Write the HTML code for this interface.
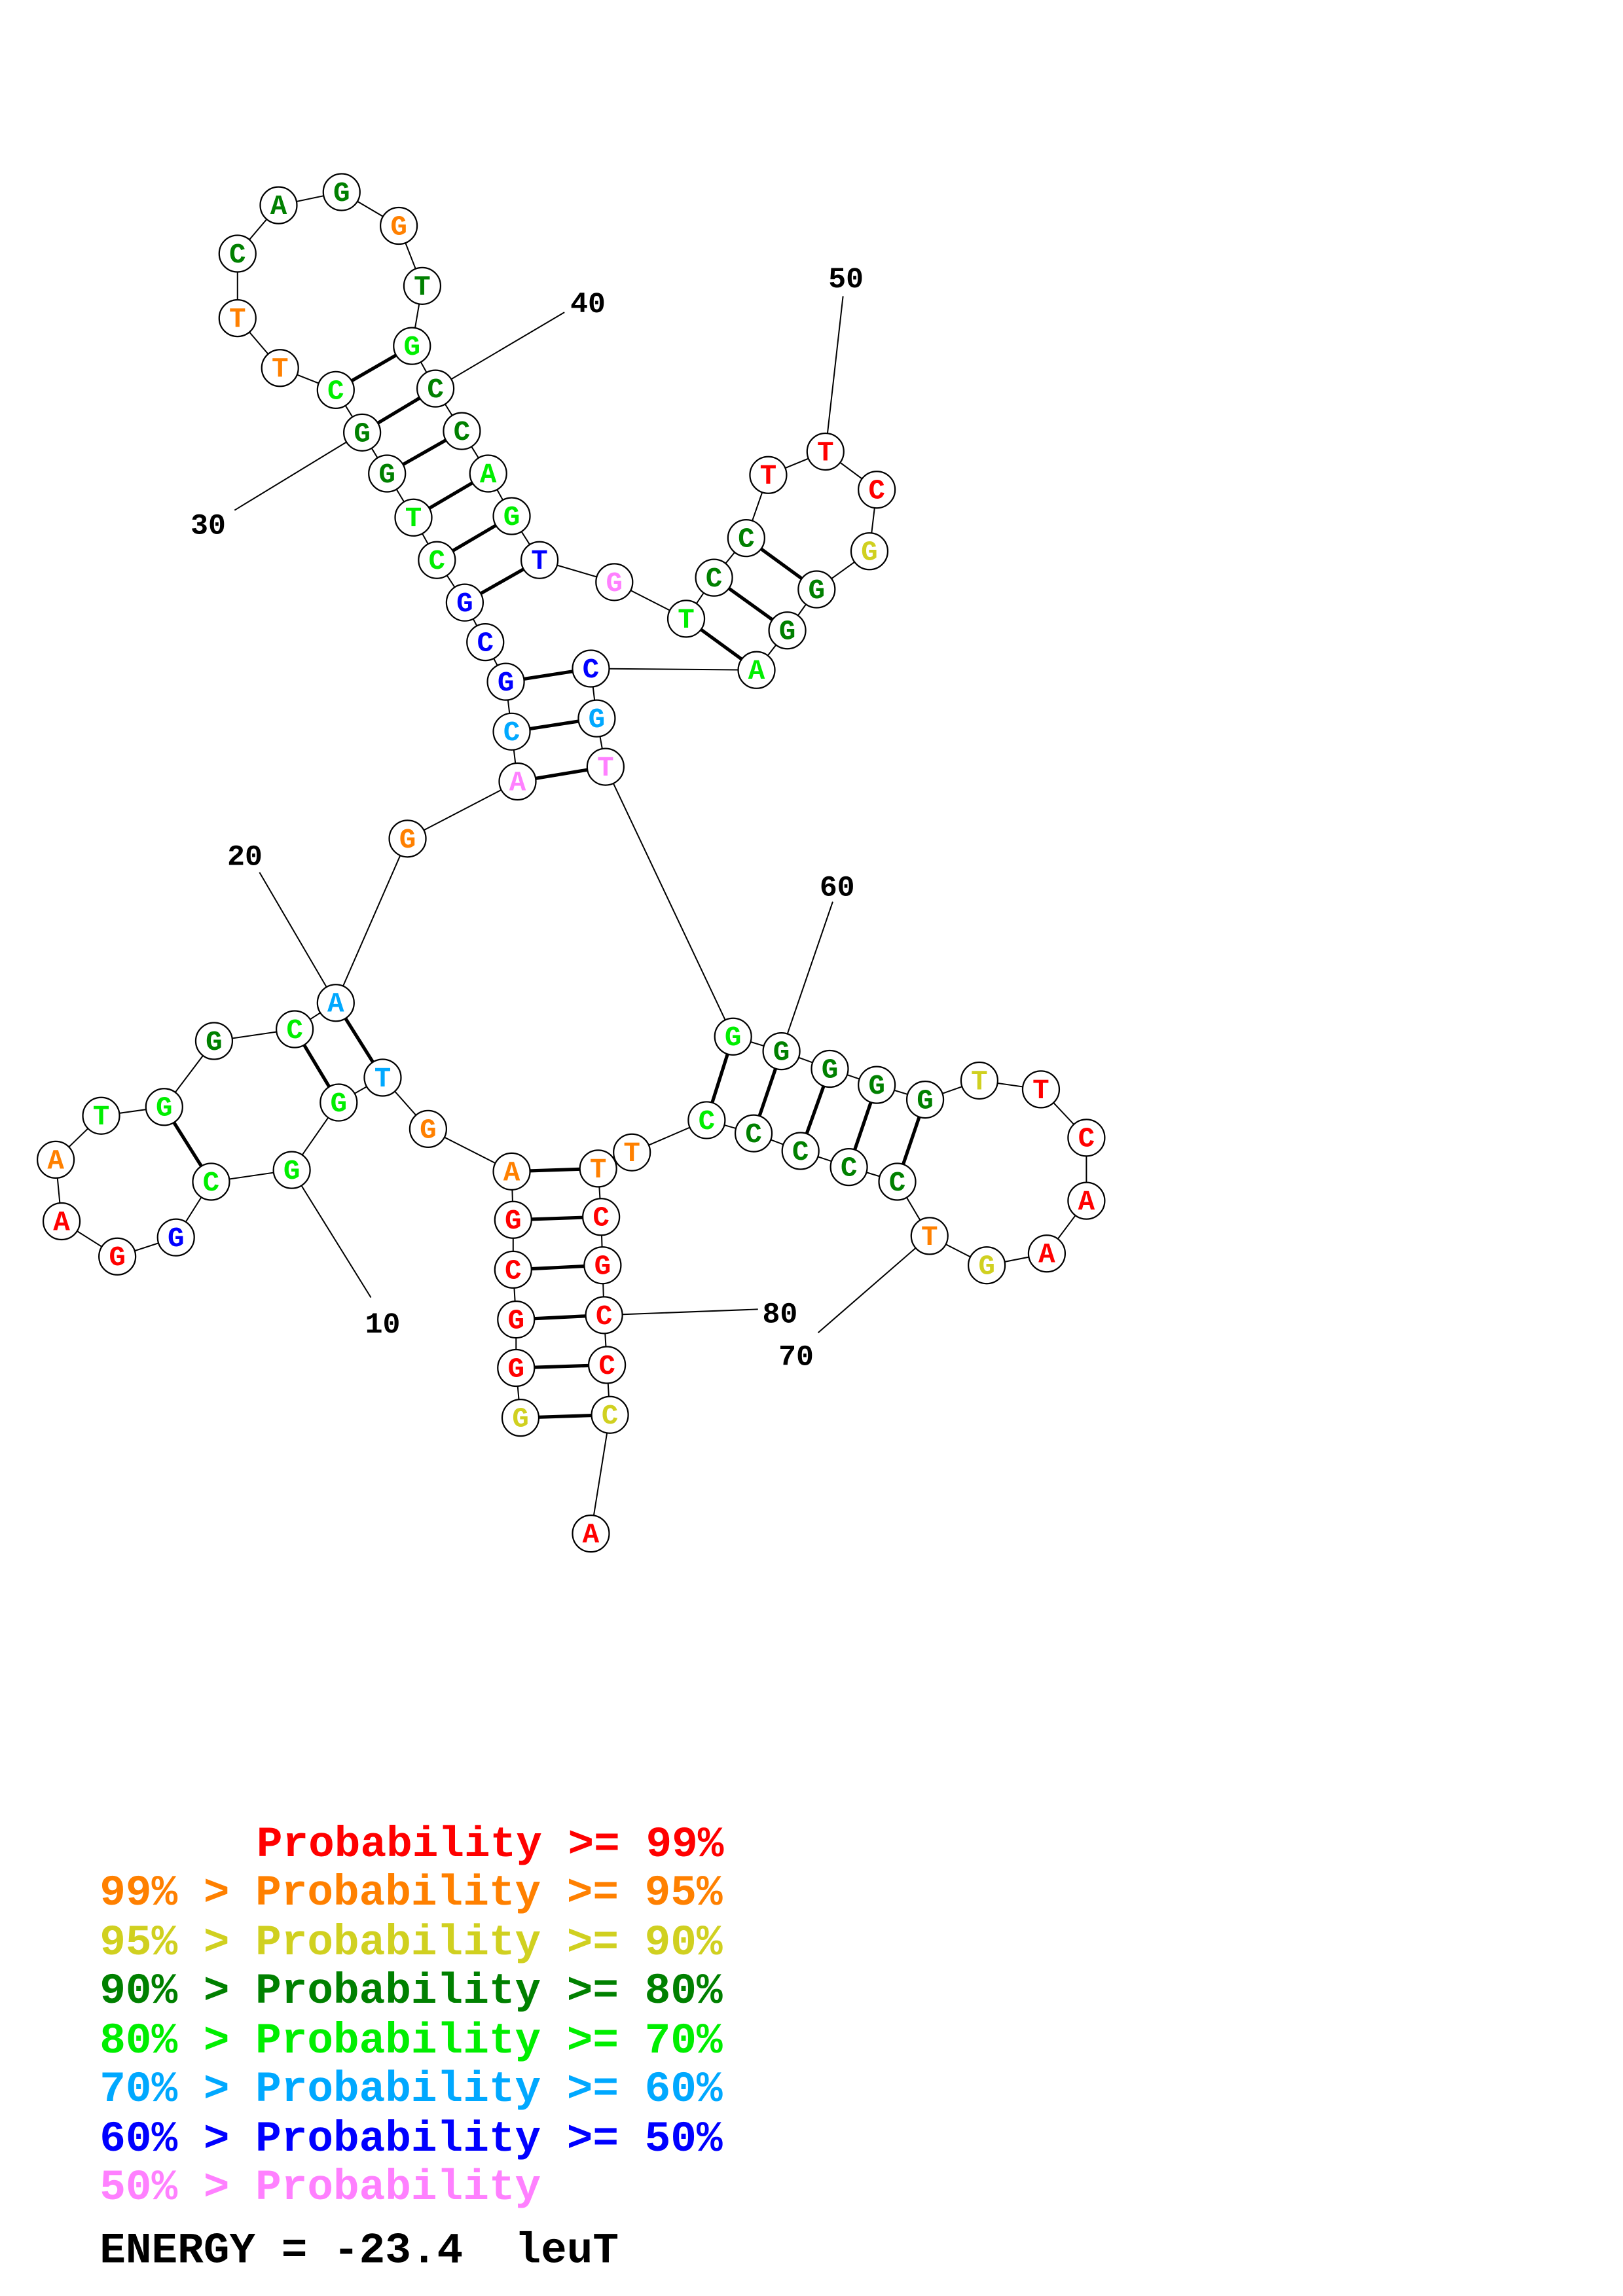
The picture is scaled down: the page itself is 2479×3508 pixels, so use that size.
<!DOCTYPE html>
<html><head><meta charset="utf-8"><style>
html,body{margin:0;padding:0;background:#fff;}
svg{display:block;}
text{font-family:"Liberation Mono",monospace;font-weight:bold;white-space:pre;}
.c circle{fill:#fff;stroke:#000;stroke-width:1;}
.t text{font-size:19px;text-anchor:middle;}
</style></head><body>
<svg width="2479" height="3508" viewBox="0 0 1107 1566" preserveAspectRatio="none" xmlns="http://www.w3.org/2000/svg">
<polyline fill="none" stroke="#000" stroke-width="0.9" points="355,967 352,933 352,900 350,866 350,832 349,799 292,770 261,735 231,752 199,798 144,806 120,844 80,857 42,833 38,791 69,761 112,755 146,710 201,702 229,684 278,572 353,533 349,499 345,465 331,438 317,411 298,382 282,353 264,323 247,295 229,266 191,251 162,217 162,173 190,140 233,131 272,154 288,195 281,236 297,265 315,294 333,323 349,352 368,382 419,397 468,422 487,394 509,367 524,324 563,308 598,334 593,376 557,402 537,430 516,457 403,456 407,490 413,523 500,707 533,717 566,729 598,740 631,750 668,737 710,743 741,776 741,819 714,855 673,863 634,843 612,806 579,796 546,785 514,773 482,764 431,786 408,797 410,830 411,863 412,897 414,931 416,965 403,1046"/>
<g stroke="#000" stroke-width="0.9">
<line x1="199" y1="798" x2="253" y2="885"/>
<line x1="229" y1="684" x2="177" y2="595"/>
<line x1="247" y1="295" x2="160" y2="348"/>
<line x1="297" y1="265" x2="385" y2="213"/>
<line x1="563" y1="308" x2="575" y2="202"/>
<line x1="533" y1="717" x2="568" y2="615"/>
<line x1="634" y1="843" x2="558" y2="909"/>
<line x1="412" y1="897" x2="517" y2="893"/>
</g>
<g stroke="#000" stroke-width="2.3">
<line x1="355" y1="967" x2="416" y2="965"/>
<line x1="352" y1="933" x2="414" y2="931"/>
<line x1="352" y1="900" x2="412" y2="897"/>
<line x1="350" y1="866" x2="411" y2="863"/>
<line x1="350" y1="832" x2="410" y2="830"/>
<line x1="349" y1="799" x2="408" y2="797"/>
<line x1="261" y1="735" x2="229" y2="684"/>
<line x1="231" y1="752" x2="201" y2="702"/>
<line x1="144" y1="806" x2="112" y2="755"/>
<line x1="353" y1="533" x2="413" y2="523"/>
<line x1="349" y1="499" x2="407" y2="490"/>
<line x1="345" y1="465" x2="403" y2="456"/>
<line x1="317" y1="411" x2="368" y2="382"/>
<line x1="298" y1="382" x2="349" y2="352"/>
<line x1="282" y1="353" x2="333" y2="323"/>
<line x1="264" y1="323" x2="315" y2="294"/>
<line x1="247" y1="295" x2="297" y2="265"/>
<line x1="229" y1="266" x2="281" y2="236"/>
<line x1="468" y1="422" x2="516" y2="457"/>
<line x1="487" y1="394" x2="537" y2="430"/>
<line x1="509" y1="367" x2="557" y2="402"/>
<line x1="500" y1="707" x2="482" y2="764"/>
<line x1="533" y1="717" x2="514" y2="773"/>
<line x1="566" y1="729" x2="546" y2="785"/>
<line x1="598" y1="740" x2="579" y2="796"/>
<line x1="631" y1="750" x2="612" y2="806"/>
</g>
<g class="c">
<circle cx="355" cy="967" r="12.5"/><circle cx="352" cy="933" r="12.5"/><circle cx="352" cy="900" r="12.5"/><circle cx="350" cy="866" r="12.5"/><circle cx="350" cy="832" r="12.5"/><circle cx="349" cy="799" r="12.5"/><circle cx="292" cy="770" r="12.5"/><circle cx="261" cy="735" r="12.5"/><circle cx="231" cy="752" r="12.5"/><circle cx="199" cy="798" r="12.5"/>
<circle cx="144" cy="806" r="12.5"/><circle cx="120" cy="844" r="12.5"/><circle cx="80" cy="857" r="12.5"/><circle cx="42" cy="833" r="12.5"/><circle cx="38" cy="791" r="12.5"/><circle cx="69" cy="761" r="12.5"/><circle cx="112" cy="755" r="12.5"/><circle cx="146" cy="710" r="12.5"/><circle cx="201" cy="702" r="12.5"/><circle cx="229" cy="684" r="12.5"/>
<circle cx="278" cy="572" r="12.5"/><circle cx="353" cy="533" r="12.5"/><circle cx="349" cy="499" r="12.5"/><circle cx="345" cy="465" r="12.5"/><circle cx="331" cy="438" r="12.5"/><circle cx="317" cy="411" r="12.5"/><circle cx="298" cy="382" r="12.5"/><circle cx="282" cy="353" r="12.5"/><circle cx="264" cy="323" r="12.5"/><circle cx="247" cy="295" r="12.5"/>
<circle cx="229" cy="266" r="12.5"/><circle cx="191" cy="251" r="12.5"/><circle cx="162" cy="217" r="12.5"/><circle cx="162" cy="173" r="12.5"/><circle cx="190" cy="140" r="12.5"/><circle cx="233" cy="131" r="12.5"/><circle cx="272" cy="154" r="12.5"/><circle cx="288" cy="195" r="12.5"/><circle cx="281" cy="236" r="12.5"/><circle cx="297" cy="265" r="12.5"/>
<circle cx="315" cy="294" r="12.5"/><circle cx="333" cy="323" r="12.5"/><circle cx="349" cy="352" r="12.5"/><circle cx="368" cy="382" r="12.5"/><circle cx="419" cy="397" r="12.5"/><circle cx="468" cy="422" r="12.5"/><circle cx="487" cy="394" r="12.5"/><circle cx="509" cy="367" r="12.5"/><circle cx="524" cy="324" r="12.5"/><circle cx="563" cy="308" r="12.5"/>
<circle cx="598" cy="334" r="12.5"/><circle cx="593" cy="376" r="12.5"/><circle cx="557" cy="402" r="12.5"/><circle cx="537" cy="430" r="12.5"/><circle cx="516" cy="457" r="12.5"/><circle cx="403" cy="456" r="12.5"/><circle cx="407" cy="490" r="12.5"/><circle cx="413" cy="523" r="12.5"/><circle cx="500" cy="707" r="12.5"/><circle cx="533" cy="717" r="12.5"/>
<circle cx="566" cy="729" r="12.5"/><circle cx="598" cy="740" r="12.5"/><circle cx="631" cy="750" r="12.5"/><circle cx="668" cy="737" r="12.5"/><circle cx="710" cy="743" r="12.5"/><circle cx="741" cy="776" r="12.5"/><circle cx="741" cy="819" r="12.5"/><circle cx="714" cy="855" r="12.5"/><circle cx="673" cy="863" r="12.5"/><circle cx="634" cy="843" r="12.5"/>
<circle cx="612" cy="806" r="12.5"/><circle cx="579" cy="796" r="12.5"/><circle cx="546" cy="785" r="12.5"/><circle cx="514" cy="773" r="12.5"/><circle cx="482" cy="764" r="12.5"/><circle cx="431" cy="786" r="12.5"/><circle cx="408" cy="797" r="12.5"/><circle cx="410" cy="830" r="12.5"/><circle cx="411" cy="863" r="12.5"/><circle cx="412" cy="897" r="12.5"/>
<circle cx="414" cy="931" r="12.5"/><circle cx="416" cy="965" r="12.5"/><circle cx="403" cy="1046" r="12.5"/>
</g>
<g class="t">
<text x="355" y="973" fill="#d0d020">G</text><text x="352" y="939" fill="#f00">G</text><text x="352" y="906" fill="#f00">G</text><text x="350" y="872" fill="#f00">C</text><text x="350" y="838" fill="#f00">G</text><text x="349" y="805" fill="#ff8000">A</text><text x="292" y="776" fill="#ff8000">G</text><text x="261" y="741" fill="#00a8ff">T</text><text x="231" y="758" fill="#00ee00">G</text><text x="199" y="804" fill="#00ee00">G</text>
<text x="144" y="812" fill="#00ee00">C</text><text x="120" y="850" fill="#00f">G</text><text x="80" y="863" fill="#f00">G</text><text x="42" y="839" fill="#f00">A</text><text x="38" y="797" fill="#ff8000">A</text><text x="69" y="767" fill="#00ee00">T</text><text x="112" y="761" fill="#00ee00">G</text><text x="146" y="716" fill="#008000">G</text><text x="201" y="708" fill="#00ee00">C</text><text x="229" y="690" fill="#00a8ff">A</text>
<text x="278" y="578" fill="#ff8000">G</text><text x="353" y="539" fill="#ff80ff">A</text><text x="349" y="505" fill="#00a8ff">C</text><text x="345" y="471" fill="#00f">G</text><text x="331" y="444" fill="#00f">C</text><text x="317" y="417" fill="#00f">G</text><text x="298" y="388" fill="#00ee00">C</text><text x="282" y="359" fill="#00ee00">T</text><text x="264" y="329" fill="#008000">G</text><text x="247" y="301" fill="#008000">G</text>
<text x="229" y="272" fill="#00ee00">C</text><text x="191" y="257" fill="#ff8000">T</text><text x="162" y="223" fill="#ff8000">T</text><text x="162" y="179" fill="#008000">C</text><text x="190" y="146" fill="#008000">A</text><text x="233" y="137" fill="#008000">G</text><text x="272" y="160" fill="#ff8000">G</text><text x="288" y="201" fill="#008000">T</text><text x="281" y="242" fill="#00ee00">G</text><text x="297" y="271" fill="#008000">C</text>
<text x="315" y="300" fill="#008000">C</text><text x="333" y="329" fill="#00ee00">A</text><text x="349" y="358" fill="#00ee00">G</text><text x="368" y="388" fill="#00f">T</text><text x="419" y="403" fill="#ff80ff">G</text><text x="468" y="428" fill="#00ee00">T</text><text x="487" y="400" fill="#008000">C</text><text x="509" y="373" fill="#008000">C</text><text x="524" y="330" fill="#f00">T</text><text x="563" y="314" fill="#f00">T</text>
<text x="598" y="340" fill="#f00">C</text><text x="593" y="382" fill="#d0d020">G</text><text x="557" y="408" fill="#008000">G</text><text x="537" y="436" fill="#008000">G</text><text x="516" y="463" fill="#00ee00">A</text><text x="403" y="462" fill="#00f">C</text><text x="407" y="496" fill="#00a8ff">G</text><text x="413" y="529" fill="#ff80ff">T</text><text x="500" y="713" fill="#00ee00">G</text><text x="533" y="723" fill="#008000">G</text>
<text x="566" y="735" fill="#008000">G</text><text x="598" y="746" fill="#008000">G</text><text x="631" y="756" fill="#008000">G</text><text x="668" y="743" fill="#d0d020">T</text><text x="710" y="749" fill="#f00">T</text><text x="741" y="782" fill="#f00">C</text><text x="741" y="825" fill="#f00">A</text><text x="714" y="861" fill="#f00">A</text><text x="673" y="869" fill="#d0d020">G</text><text x="634" y="849" fill="#ff8000">T</text>
<text x="612" y="812" fill="#008000">C</text><text x="579" y="802" fill="#008000">C</text><text x="546" y="791" fill="#008000">C</text><text x="514" y="779" fill="#008000">C</text><text x="482" y="770" fill="#00ee00">C</text><text x="431" y="792" fill="#ff8000">T</text><text x="408" y="803" fill="#ff8000">T</text><text x="410" y="836" fill="#f00">C</text><text x="411" y="869" fill="#f00">G</text><text x="412" y="903" fill="#f00">C</text>
<text x="414" y="937" fill="#f00">C</text><text x="416" y="971" fill="#d0d020">C</text><text x="403" y="1052" fill="#f00">A</text>
</g>
<g font-size="20" text-anchor="middle" fill="#000">
<text x="261" y="909">10</text><text x="167" y="590">20</text><text x="142" y="364">30</text><text x="401" y="213">40</text><text x="577" y="196">50</text><text x="571" y="611">60</text><text x="543" y="931">70</text><text x="532" y="902">80</text>
</g>
<g font-size="29.5">
<text x="175" y="1266" fill="#ff0000">Probability &gt;= 99%</text>
<text x="68" y="1299" fill="#ff8000">99% &gt; Probability &gt;= 95%</text>
<text x="68" y="1333" fill="#d0d020">95% &gt; Probability &gt;= 90%</text>
<text x="68" y="1366" fill="#008000">90% &gt; Probability &gt;= 80%</text>
<text x="68" y="1400" fill="#00ee00">80% &gt; Probability &gt;= 70%</text>
<text x="68" y="1433" fill="#00a8ff">70% &gt; Probability &gt;= 60%</text>
<text x="68" y="1467" fill="#0000ff">60% &gt; Probability &gt;= 50%</text>
<text x="68" y="1500" fill="#ff80ff">50% &gt; Probability</text>
<text x="68" y="1543" fill="#000">ENERGY = -23.4&#160;&#160;leuT</text>
</g>
</svg>
</body></html>
